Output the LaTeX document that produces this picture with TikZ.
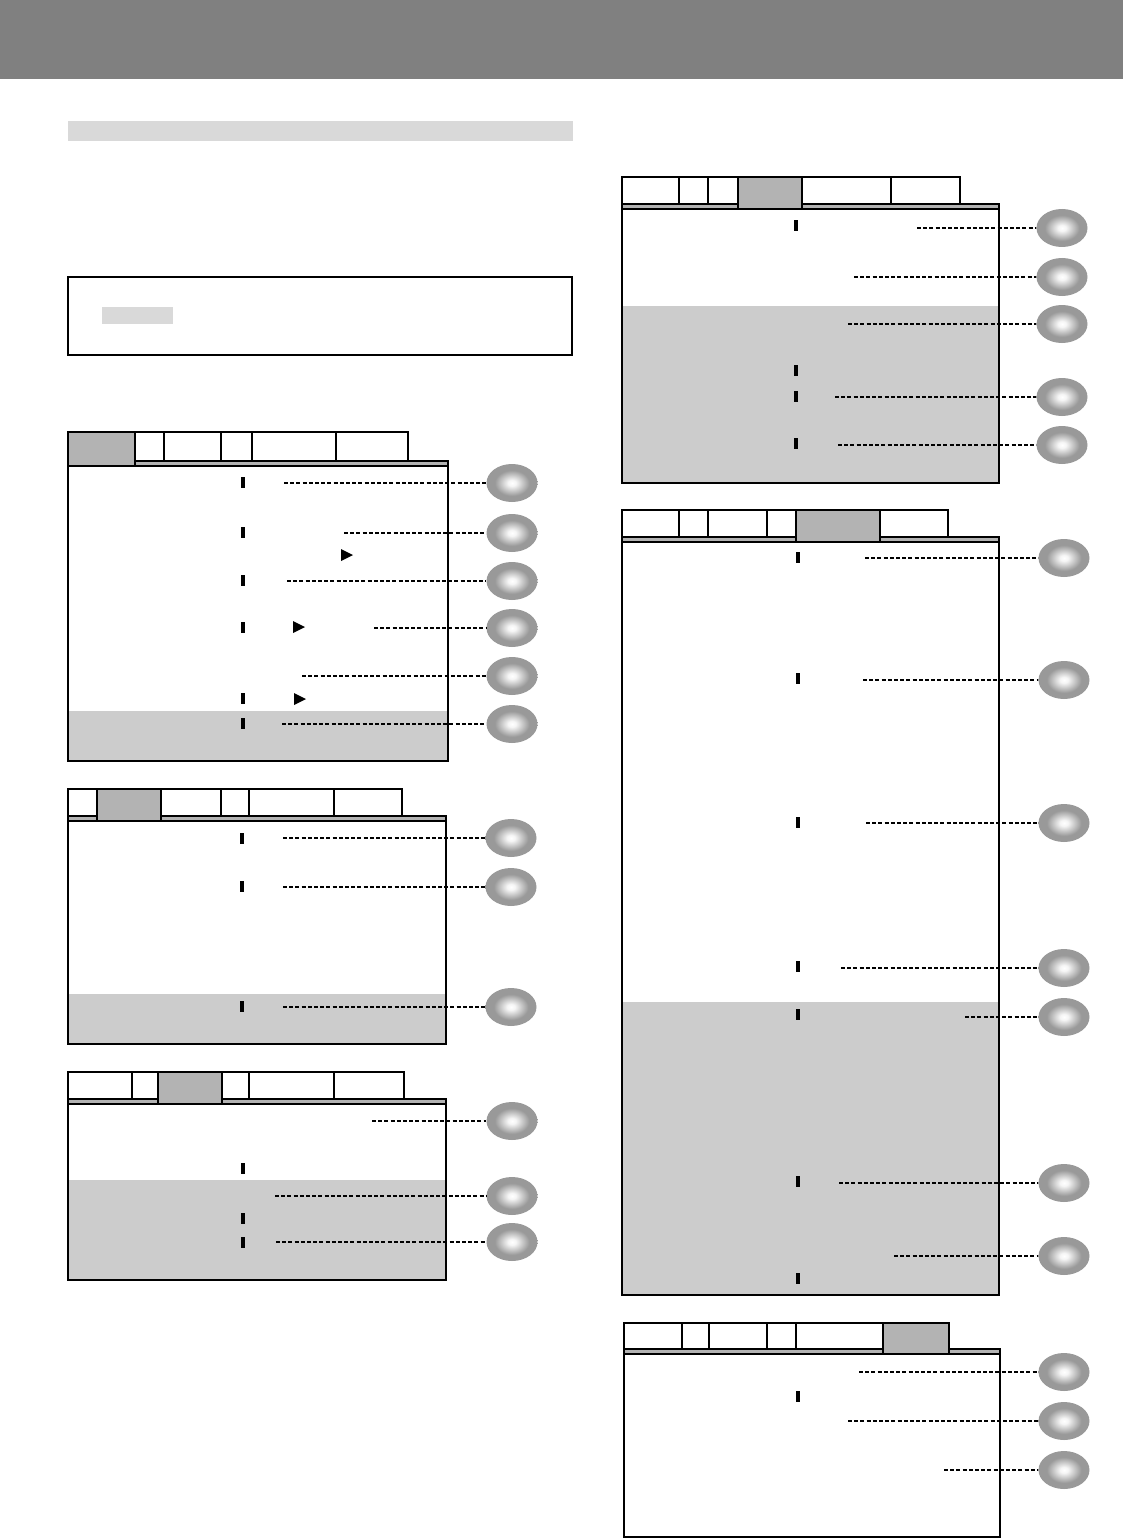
\documentclass[tikz,border=0pt]{standalone}
\usetikzlibrary{shapes.geometric}
\definecolor{headgray}{HTML}{808080}
\definecolor{bargray}{HTML}{D9D9D9}
\definecolor{stripgray}{HTML}{B3B3B3}
\definecolor{lowgray}{HTML}{CCCCCC}
\definecolor{ballgray}{HTML}{999999}
\pgfdeclareradialshading{ballshade}{\pgfpoint{0bp}{0bp}}{color(0bp)=(white); color(4bp)=(white!96!black); color(17bp)=(ballgray); color(25bp)=(ballgray); color(50bp)=(ballgray)}
\tikzset{
  ball/.style={ellipse, minimum width=51pt, minimum height=38pt, inner sep=0pt, shading=ballshade},
  leader/.style={line width=1.5pt, dash pattern=on 4pt off 2.2pt},
  tabline/.style={line width=1.5pt, line join=miter},
  panelline/.style={line width=1.8pt},
}
\newcommand{\menuwin}[8]{% L, R, tab top, tab bottom, panel bottom, gray top, tab list a/b, active a/b
  \fill[white] (#1,#4) rectangle (#2,#5);
  \fill[lowgray] (#1,#6) rectangle (#2,#5);
  \fill[stripgray] (#1,#4) rectangle (#2,#4+5);
  \foreach \a/\b in {#7} { \draw[tabline,fill=white] (\a,#3) rectangle (\b,#4); }
  \draw[panelline] (#1,#4) rectangle (#2,#5);
  \draw[panelline] (#1,#4+5) -- (#2,#4+5);
  \foreach \a/\b in {#8} {
    \fill[stripgray] (\a,#3) rectangle (\b,#4+4);
    \draw[tabline] (\a,#4+4) -- (\a,#3) -- (\b,#3) -- (\b,#4+4);
  }
}
\begin{document}
\begin{tikzpicture}[x=1pt,y=-1pt]
\useasboundingbox (0,0) rectangle (1123,1538);
% header band
\fill[headgray] (0,0) rectangle (1123,79);
% top-left bar and box
\fill[bargray] (68,121) rectangle (573,141);
\draw[line width=1.6pt] (68,277) rectangle (572,355);
\fill[bargray] (102,307) rectangle (173,324);
% windows
\menuwin{68}{448}{432}{461}{761}{711}{68/135,135/164,164/221,221/252,252/336,336/408}{68/135}
\menuwin{68}{446}{789}{816}{1044}{994}{68/97,97/161,161/221,221/249,249/334,334/402}{97/161}
\menuwin{68}{446}{1072}{1099}{1280}{1180}{68/132,132/158,158/222,222/249,249/334,334/404}{158/222}
\menuwin{622}{999}{177}{204}{483}{306}{622/679,679/708,708/738,738/802,802/891,891/960}{738/802}
\menuwin{622}{999}{510}{537}{1295}{1002}{622/679,679/708,708/767,767/796,796/880,880/948}{796/880}
\menuwin{624}{1000}{1323}{1349}{1537}{1537}{624/682,682/709,709/767,767/796,796/883,883/949}{883/949}
% value marks
\foreach \mx/\my in {243/482,243/532,243/580,243/627,243/698,243/723,
  242/838,242/886,242/1006,
  243/1168,243/1218,243/1242,
  796/226,796/370,796/396,796/443,
  798/557,798/678,798/822,798/966,798/1014,798/1181,798/1278,
  798/1396}
  { \fill[black] (\mx-1.7,\my-5.5) rectangle (\mx+1.7,\my+5.5); }
% triangles
\foreach \tx/\ty in {347/555,299/627,300/699}
  { \fill[black] (\tx-6,\ty-6) -- (\tx+6,\ty) -- (\tx-6,\ty+6) -- cycle; }
% callout balls and leaders
\foreach \n/\ex/\ey/\sx in {
  1/512/483/284, 2/512/533/344, 3/512/581/287, 4/512/628/374, 5/512/676/302, 6/512/724/282,
  7/511/838/283, 8/511/887/283, 9/511/1007/283,
  10/512/1121/372, 11/512/1196/275, 12/512/1242/276,
  13/1062/228/917, 14/1062/277/854, 15/1062/324/848, 16/1062/397/835, 17/1062/445/838,
  18/1064/558/865, 19/1064/680/863, 20/1064/823/866, 21/1064/968/841, 22/1064/1017/965,
  23/1064/1183/839, 24/1064/1256/894,
  25/1064/1372/859, 26/1064/1421/848, 27/1064/1470/944}
{
  \node[ball] (e\n) at (\ex,\ey) {};
  \coordinate (c\n) at (\sx,\ey);
  \draw[leader] (c\n) -- (e\n.west);
}
\end{tikzpicture}
\end{document}
